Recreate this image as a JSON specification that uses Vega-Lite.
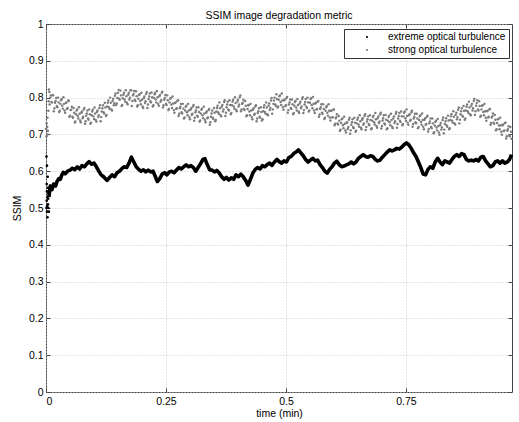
{
"$schema":"https://vega.github.io/schema/vega-lite/v6.json",
"width":466,"height":368,
"autosize":{"type":"none"},
"padding":{"left":46,"top":24,"right":7,"bottom":30},
"background":"white",
"title":{"text":"SSIM image degradation metric","fontSize":10.5,"fontWeight":"normal","font":"Liberation Sans","color":"#000","offset":-2},
"datasets":{
"strong":[
{"t":0,"v":0.715},{"t":0.001,"v":0.695},{"t":0.0015,"v":0.73},{"t":0.0025,"v":0.72},{"t":0.003,"v":0.745},{"t":0.0035,"v":0.7},{"t":0.004,"v":0.71},{"t":0.005,"v":0.764},{"t":0.0055,"v":0.79},{"t":0.006,"v":0.822},{"t":0.007,"v":0.815},{"t":0.0075,"v":0.781},{"t":0.009,"v":0.8},
{"t":0.01,"v":0.806},{"t":0.0125,"v":0.787},{"t":0.015,"v":0.806},{"t":0.0175,"v":0.771},{"t":0.02,"v":0.791},{"t":0.0225,"v":0.777},{"t":0.025,"v":0.8},{"t":0.0275,"v":0.761},{"t":0.03,"v":0.783},{"t":0.0325,"v":0.796},{"t":0.035,"v":0.77},{"t":0.0375,"v":0.783},{"t":0.04,"v":0.759},{"t":0.0425,"v":0.787},{"t":0.045,"v":0.772},{"t":0.0475,"v":0.791},{"t":0.05,"v":0.751},{"t":0.0525,"v":0.767},{"t":0.055,"v":0.748},{"t":0.0575,"v":0.772},{"t":0.06,"v":0.732},{"t":0.0625,"v":0.755},{"t":0.065,"v":0.768},{"t":0.0675,"v":0.743},{"t":0.07,"v":0.756},{"t":0.0725,"v":0.733},{"t":0.075,"v":0.762},{"t":0.0775,"v":0.748},{"t":0.08,"v":0.772},{"t":0.0825,"v":0.736},{"t":0.085,"v":0.757},{"t":0.0875,"v":0.743},{"t":0.09,"v":0.768},{"t":0.0925,"v":0.729},{"t":0.095,"v":0.752},{"t":0.0975,"v":0.767},{"t":0.1,"v":0.742},{"t":0.1025,"v":0.757},{"t":0.105,"v":0.735},{"t":0.1075,"v":0.765},{"t":0.11,"v":0.752},{"t":0.1125,"v":0.779},{"t":0.115,"v":0.747},{"t":0.1175,"v":0.771},{"t":0.12,"v":0.76},{"t":0.1225,"v":0.786},{"t":0.125,"v":0.75},{"t":0.1275,"v":0.776},{"t":0.13,"v":0.792},{"t":0.1325,"v":0.769},{"t":0.135,"v":0.786},{"t":0.1375,"v":0.765},{"t":0.14,"v":0.797},{"t":0.1425,"v":0.785},{"t":0.145,"v":0.811},{"t":0.1475,"v":0.784},{"t":0.15,"v":0.813},{"t":0.1525,"v":0.797},{"t":0.155,"v":0.819},{"t":0.1575,"v":0.777},{"t":0.16,"v":0.798},{"t":0.1625,"v":0.813},{"t":0.165,"v":0.789},{"t":0.1675,"v":0.804},{"t":0.17,"v":0.782},{"t":0.1725,"v":0.813},{"t":0.175,"v":0.8},{"t":0.1775,"v":0.82},{"t":0.18,"v":0.791},{"t":0.1825,"v":0.81},{"t":0.185,"v":0.794},{"t":0.1875,"v":0.817},{"t":0.19,"v":0.776},{"t":0.1925,"v":0.797},{"t":0.195,"v":0.809},{"t":0.1975,"v":0.782},{"t":0.2,"v":0.794},{"t":0.2025,"v":0.772},{"t":0.205,"v":0.803},{"t":0.2075,"v":0.79},{"t":0.21,"v":0.815},{"t":0.2125,"v":0.781},{"t":0.215,"v":0.803},{"t":0.2175,"v":0.79},{"t":0.22,"v":0.814},{"t":0.2225,"v":0.776},{"t":0.225,"v":0.799},{"t":0.2275,"v":0.813},{"t":0.23,"v":0.787},{"t":0.2325,"v":0.801},{"t":0.235,"v":0.778},{"t":0.2375,"v":0.807},{"t":0.24,"v":0.793},{"t":0.2425,"v":0.816},{"t":0.245,"v":0.779},{"t":0.2475,"v":0.799},{"t":0.25,"v":0.783},{"t":0.2525,"v":0.806},{"t":0.255,"v":0.766},{"t":0.2575,"v":0.787},{"t":0.26,"v":0.799},{"t":0.2625,"v":0.772},{"t":0.265,"v":0.784},{"t":0.2675,"v":0.759},{"t":0.27,"v":0.787},{"t":0.2725,"v":0.771},{"t":0.275,"v":0.793},{"t":0.2775,"v":0.756},{"t":0.28,"v":0.775},{"t":0.2825,"v":0.76},{"t":0.285,"v":0.783},{"t":0.2875,"v":0.743},{"t":0.29,"v":0.765},{"t":0.2925,"v":0.778},{"t":0.295,"v":0.752},{"t":0.2975,"v":0.765},{"t":0.3,"v":0.741},{"t":0.3025,"v":0.771},{"t":0.305,"v":0.756},{"t":0.3075,"v":0.78},{"t":0.31,"v":0.745},{"t":0.3125,"v":0.765},{"t":0.315,"v":0.751},{"t":0.3175,"v":0.774},{"t":0.32,"v":0.735},{"t":0.3225,"v":0.757},{"t":0.325,"v":0.77},{"t":0.3275,"v":0.744},{"t":0.33,"v":0.757},{"t":0.3325,"v":0.733},{"t":0.335,"v":0.762},{"t":0.3375,"v":0.746},{"t":0.34,"v":0.769},{"t":0.3425,"v":0.733},{"t":0.345,"v":0.757},{"t":0.3475,"v":0.745},{"t":0.35,"v":0.772},{"t":0.3525,"v":0.736},{"t":0.355,"v":0.762},{"t":0.3575,"v":0.778},{"t":0.36,"v":0.756},{"t":0.3625,"v":0.771},{"t":0.365,"v":0.749},{"t":0.3675,"v":0.78},{"t":0.37,"v":0.768},{"t":0.3725,"v":0.793},{"t":0.375,"v":0.759},{"t":0.3775,"v":0.781},{"t":0.38,"v":0.768},{"t":0.3825,"v":0.793},{"t":0.385,"v":0.755},{"t":0.3875,"v":0.779},{"t":0.39,"v":0.794},{"t":0.3925,"v":0.77},{"t":0.395,"v":0.785},{"t":0.3975,"v":0.763},{"t":0.4,"v":0.794},{"t":0.4025,"v":0.781},{"t":0.405,"v":0.806},{"t":0.4075,"v":0.768},{"t":0.41,"v":0.786},{"t":0.4125,"v":0.769},{"t":0.415,"v":0.791},{"t":0.4175,"v":0.749},{"t":0.42,"v":0.769},{"t":0.4225,"v":0.78},{"t":0.425,"v":0.752},{"t":0.4275,"v":0.765},{"t":0.43,"v":0.741},{"t":0.4325,"v":0.771},{"t":0.435,"v":0.756},{"t":0.4375,"v":0.779},{"t":0.44,"v":0.743},{"t":0.4425,"v":0.763},{"t":0.445,"v":0.748},{"t":0.4475,"v":0.774},{"t":0.45,"v":0.738},{"t":0.4525,"v":0.763},{"t":0.455,"v":0.779},{"t":0.4575,"v":0.756},{"t":0.46,"v":0.773},{"t":0.4625,"v":0.752},{"t":0.465,"v":0.784},{"t":0.4675,"v":0.772},{"t":0.47,"v":0.799},{"t":0.4725,"v":0.768},{"t":0.475,"v":0.792},{"t":0.4775,"v":0.781},{"t":0.48,"v":0.809},{"t":0.4825,"v":0.773},{"t":0.485,"v":0.794},{"t":0.4875,"v":0.806},{"t":0.49,"v":0.78},{"t":0.4925,"v":0.792},{"t":0.495,"v":0.767},{"t":0.4975,"v":0.795},{"t":0.5,"v":0.779},{"t":0.5025,"v":0.802},{"t":0.505,"v":0.766},{"t":0.5075,"v":0.787},{"t":0.51,"v":0.772},{"t":0.5125,"v":0.795},{"t":0.515,"v":0.755},{"t":0.5175,"v":0.778},{"t":0.52,"v":0.791},{"t":0.5225,"v":0.765},{"t":0.525,"v":0.78},{"t":0.5275,"v":0.758},{"t":0.53,"v":0.789},{"t":0.5325,"v":0.776},{"t":0.535,"v":0.801},{"t":0.5375,"v":0.766},{"t":0.54,"v":0.788},{"t":0.5425,"v":0.775},{"t":0.545,"v":0.8},{"t":0.5475,"v":0.762},{"t":0.55,"v":0.786},{"t":0.5525,"v":0.798},{"t":0.555,"v":0.771},{"t":0.5575,"v":0.783},{"t":0.56,"v":0.758},{"t":0.5625,"v":0.786},{"t":0.565,"v":0.769},{"t":0.5675,"v":0.791},{"t":0.57,"v":0.754},{"t":0.5725,"v":0.774},{"t":0.575,"v":0.759},{"t":0.5775,"v":0.782},{"t":0.58,"v":0.742},{"t":0.5825,"v":0.764},{"t":0.585,"v":0.777},{"t":0.5875,"v":0.751},{"t":0.59,"v":0.764},{"t":0.5925,"v":0.738},{"t":0.595,"v":0.764},{"t":0.5975,"v":0.747},{"t":0.6,"v":0.768},{"t":0.6025,"v":0.729},{"t":0.605,"v":0.747},{"t":0.6075,"v":0.73},{"t":0.61,"v":0.75},{"t":0.6125,"v":0.71},{"t":0.615,"v":0.731},{"t":0.6175,"v":0.743},{"t":0.62,"v":0.717},{"t":0.6225,"v":0.729},{"t":0.625,"v":0.705},{"t":0.6275,"v":0.733},{"t":0.63,"v":0.72},{"t":0.6325,"v":0.745},{"t":0.635,"v":0.711},{"t":0.6375,"v":0.733},{"t":0.64,"v":0.72},{"t":0.6425,"v":0.745},{"t":0.645,"v":0.707},{"t":0.6475,"v":0.73},{"t":0.65,"v":0.745},{"t":0.6525,"v":0.721},{"t":0.655,"v":0.736},{"t":0.6575,"v":0.714},{"t":0.66,"v":0.744},{"t":0.6625,"v":0.73},{"t":0.665,"v":0.755},{"t":0.6675,"v":0.72},{"t":0.67,"v":0.741},{"t":0.6725,"v":0.728},{"t":0.675,"v":0.752},{"t":0.6775,"v":0.714},{"t":0.68,"v":0.737},{"t":0.6825,"v":0.751},{"t":0.685,"v":0.727},{"t":0.6875,"v":0.741},{"t":0.69,"v":0.718},{"t":0.6925,"v":0.749},{"t":0.695,"v":0.735},{"t":0.6975,"v":0.759},{"t":0.7,"v":0.723},{"t":0.7025,"v":0.744},{"t":0.705,"v":0.73},{"t":0.7075,"v":0.753},{"t":0.71,"v":0.714},{"t":0.7125,"v":0.737},{"t":0.715,"v":0.751},{"t":0.7175,"v":0.725},{"t":0.72,"v":0.739},{"t":0.7225,"v":0.717},{"t":0.725,"v":0.749},{"t":0.7275,"v":0.736},{"t":0.73,"v":0.761},{"t":0.7325,"v":0.728},{"t":0.735,"v":0.75},{"t":0.7375,"v":0.737},{"t":0.74,"v":0.762},{"t":0.7425,"v":0.725},{"t":0.745,"v":0.749},{"t":0.7475,"v":0.762},{"t":0.75,"v":0.737},{"t":0.7525,"v":0.75},{"t":0.755,"v":0.726},{"t":0.7575,"v":0.755},{"t":0.76,"v":0.74},{"t":0.7625,"v":0.764},{"t":0.765,"v":0.728},{"t":0.7675,"v":0.748},{"t":0.77,"v":0.733},{"t":0.7725,"v":0.756},{"t":0.775,"v":0.717},{"t":0.7775,"v":0.739},{"t":0.78,"v":0.752},{"t":0.7825,"v":0.726},{"t":0.785,"v":0.739},{"t":0.7875,"v":0.714},{"t":0.79,"v":0.744},{"t":0.7925,"v":0.728},{"t":0.795,"v":0.751},{"t":0.7975,"v":0.715},{"t":0.8,"v":0.735},{"t":0.8025,"v":0.72},{"t":0.805,"v":0.743},{"t":0.8075,"v":0.703},{"t":0.81,"v":0.724},{"t":0.8125,"v":0.737},{"t":0.815,"v":0.711},{"t":0.8175,"v":0.723},{"t":0.82,"v":0.699},{"t":0.8225,"v":0.731},{"t":0.825,"v":0.719},{"t":0.8275,"v":0.746},{"t":0.83,"v":0.713},{"t":0.8325,"v":0.736},{"t":0.835,"v":0.724},{"t":0.8375,"v":0.751},{"t":0.84,"v":0.714},{"t":0.8425,"v":0.739},{"t":0.845,"v":0.755},{"t":0.8475,"v":0.732},{"t":0.85,"v":0.748},{"t":0.8525,"v":0.727},{"t":0.855,"v":0.759},{"t":0.8575,"v":0.747},{"t":0.86,"v":0.773},{"t":0.8625,"v":0.74},{"t":0.865,"v":0.763},{"t":0.8675,"v":0.751},{"t":0.87,"v":0.777},{"t":0.8725,"v":0.74},{"t":0.875,"v":0.765},{"t":0.8775,"v":0.781},{"t":0.88,"v":0.758},{"t":0.8825,"v":0.773},{"t":0.885,"v":0.752},{"t":0.8875,"v":0.783},{"t":0.89,"v":0.771},{"t":0.8925,"v":0.796},{"t":0.895,"v":0.763},{"t":0.8975,"v":0.785},{"t":0.9,"v":0.768},{"t":0.9025,"v":0.79},{"t":0.905,"v":0.748},{"t":0.9075,"v":0.768},{"t":0.91,"v":0.779},{"t":0.9125,"v":0.752},{"t":0.915,"v":0.763},{"t":0.9175,"v":0.737},{"t":0.92,"v":0.764},{"t":0.9225,"v":0.748},{"t":0.925,"v":0.769},{"t":0.9275,"v":0.731},{"t":0.93,"v":0.749},{"t":0.9325,"v":0.732},{"t":0.935,"v":0.753},{"t":0.9375,"v":0.711},{"t":0.94,"v":0.731},{"t":0.9425,"v":0.742},{"t":0.945,"v":0.714},{"t":0.9475,"v":0.725},{"t":0.95,"v":0.699},{"t":0.9525,"v":0.727},{"t":0.955,"v":0.711},{"t":0.9575,"v":0.732},{"t":0.96,"v":0.695},{"t":0.9625,"v":0.714},{"t":0.965,"v":0.698},{"t":0.9675,"v":0.72},{"t":0.97,"v":0.688},
{"t":0.01125,"v":0.788},{"t":0.01375,"v":0.807},{"t":0.01625,"v":0.763},{"t":0.01875,"v":0.786},{"t":0.02125,"v":0.799},{"t":0.02375,"v":0.774},{"t":0.02625,"v":0.787},{"t":0.02875,"v":0.764},{"t":0.03125,"v":0.793},{"t":0.03375,"v":0.778},{"t":0.03625,"v":0.801},{"t":0.03875,"v":0.765},{"t":0.04125,"v":0.785},{"t":0.04375,"v":0.769},{"t":0.04625,"v":0.792},{"t":0.04875,"v":0.748},{"t":0.05125,"v":0.766},{"t":0.05375,"v":0.775},{"t":0.05625,"v":0.745},{"t":0.05875,"v":0.759},{"t":0.06125,"v":0.735},{"t":0.06375,"v":0.765},{"t":0.06625,"v":0.75},{"t":0.06875,"v":0.774},{"t":0.07125,"v":0.738},{"t":0.07375,"v":0.759},{"t":0.07625,"v":0.744},{"t":0.07875,"v":0.768},{"t":0.08125,"v":0.729},{"t":0.08375,"v":0.751},{"t":0.08625,"v":0.765},{"t":0.08875,"v":0.74},{"t":0.09125,"v":0.755},{"t":0.09375,"v":0.732},{"t":0.09625,"v":0.762},{"t":0.09875,"v":0.749},{"t":0.10125,"v":0.773},{"t":0.10375,"v":0.739},{"t":0.10625,"v":0.761},{"t":0.10875,"v":0.747},{"t":0.11125,"v":0.772},{"t":0.11375,"v":0.736},{"t":0.11625,"v":0.762},{"t":0.11875,"v":0.779},{"t":0.12125,"v":0.757},{"t":0.12375,"v":0.773},{"t":0.12625,"v":0.753},{"t":0.12875,"v":0.786},{"t":0.13125,"v":0.774},{"t":0.13375,"v":0.8},{"t":0.13625,"v":0.768},{"t":0.13875,"v":0.791},{"t":0.14125,"v":0.779},{"t":0.14375,"v":0.805},{"t":0.14625,"v":0.78},{"t":0.14875,"v":0.799},{"t":0.15125,"v":0.821},{"t":0.15375,"v":0.794},{"t":0.15625,"v":0.806},{"t":0.15875,"v":0.78},{"t":0.16125,"v":0.808},{"t":0.16375,"v":0.795},{"t":0.16625,"v":0.82},{"t":0.16875,"v":0.786},{"t":0.17125,"v":0.808},{"t":0.17375,"v":0.795},{"t":0.17625,"v":0.82},{"t":0.17875,"v":0.777},{"t":0.18125,"v":0.806},{"t":0.18375,"v":0.818},{"t":0.18625,"v":0.791},{"t":0.18875,"v":0.804},{"t":0.19125,"v":0.779},{"t":0.19375,"v":0.807},{"t":0.19625,"v":0.791},{"t":0.19875,"v":0.813},{"t":0.20125,"v":0.776},{"t":0.20375,"v":0.798},{"t":0.20625,"v":0.785},{"t":0.20875,"v":0.81},{"t":0.21125,"v":0.772},{"t":0.21375,"v":0.796},{"t":0.21625,"v":0.811},{"t":0.21875,"v":0.787},{"t":0.22125,"v":0.801},{"t":0.22375,"v":0.779},{"t":0.22625,"v":0.809},{"t":0.22875,"v":0.795},{"t":0.23125,"v":0.818},{"t":0.23375,"v":0.783},{"t":0.23625,"v":0.804},{"t":0.23875,"v":0.789},{"t":0.24125,"v":0.813},{"t":0.24375,"v":0.773},{"t":0.24625,"v":0.794},{"t":0.24875,"v":0.807},{"t":0.25125,"v":0.78},{"t":0.25375,"v":0.793},{"t":0.25625,"v":0.769},{"t":0.25875,"v":0.797},{"t":0.26125,"v":0.781},{"t":0.26375,"v":0.803},{"t":0.26625,"v":0.766},{"t":0.26875,"v":0.785},{"t":0.27125,"v":0.769},{"t":0.27375,"v":0.791},{"t":0.27625,"v":0.75},{"t":0.27875,"v":0.771},{"t":0.28125,"v":0.783},{"t":0.28375,"v":0.757},{"t":0.28625,"v":0.77},{"t":0.28875,"v":0.746},{"t":0.29125,"v":0.775},{"t":0.29375,"v":0.76},{"t":0.29625,"v":0.783},{"t":0.29875,"v":0.747},{"t":0.30125,"v":0.767},{"t":0.30375,"v":0.753},{"t":0.30625,"v":0.776},{"t":0.30875,"v":0.737},{"t":0.31125,"v":0.76},{"t":0.31375,"v":0.773},{"t":0.31625,"v":0.748},{"t":0.31875,"v":0.761},{"t":0.32125,"v":0.738},{"t":0.32375,"v":0.767},{"t":0.32625,"v":0.752},{"t":0.32875,"v":0.775},{"t":0.33125,"v":0.739},{"t":0.33375,"v":0.759},{"t":0.33625,"v":0.744},{"t":0.33875,"v":0.766},{"t":0.34125,"v":0.726},{"t":0.34375,"v":0.748},{"t":0.34625,"v":0.765},{"t":0.34875,"v":0.742},{"t":0.35125,"v":0.759},{"t":0.35375,"v":0.739},{"t":0.35625,"v":0.772},{"t":0.35875,"v":0.76},{"t":0.36125,"v":0.787},{"t":0.36375,"v":0.753},{"t":0.36625,"v":0.775},{"t":0.36875,"v":0.762},{"t":0.37125,"v":0.788},{"t":0.37375,"v":0.75},{"t":0.37625,"v":0.774},{"t":0.37875,"v":0.789},{"t":0.38125,"v":0.765},{"t":0.38375,"v":0.78},{"t":0.38625,"v":0.758},{"t":0.38875,"v":0.789},{"t":0.39125,"v":0.776},{"t":0.39375,"v":0.801},{"t":0.39625,"v":0.767},{"t":0.39875,"v":0.789},{"t":0.40125,"v":0.776},{"t":0.40375,"v":0.801},{"t":0.40625,"v":0.763},{"t":0.40875,"v":0.783},{"t":0.41125,"v":0.794},{"t":0.41375,"v":0.766},{"t":0.41625,"v":0.778},{"t":0.41875,"v":0.752},{"t":0.42125,"v":0.779},{"t":0.42375,"v":0.762},{"t":0.42625,"v":0.783},{"t":0.42875,"v":0.747},{"t":0.43125,"v":0.767},{"t":0.43375,"v":0.753},{"t":0.43625,"v":0.776},{"t":0.43875,"v":0.736},{"t":0.44125,"v":0.758},{"t":0.44375,"v":0.771},{"t":0.44625,"v":0.745},{"t":0.44875,"v":0.761},{"t":0.45125,"v":0.741},{"t":0.45375,"v":0.773},{"t":0.45625,"v":0.761},{"t":0.45875,"v":0.787},{"t":0.46125,"v":0.755},{"t":0.46375,"v":0.778},{"t":0.46625,"v":0.766},{"t":0.46875,"v":0.792},{"t":0.47125,"v":0.756},{"t":0.47375,"v":0.783},{"t":0.47625,"v":0.8},{"t":0.47875,"v":0.778},{"t":0.48125,"v":0.796},{"t":0.48375,"v":0.776},{"t":0.48625,"v":0.804},{"t":0.48875,"v":0.788},{"t":0.49125,"v":0.811},{"t":0.49375,"v":0.774},{"t":0.49625,"v":0.793},{"t":0.49875,"v":0.777},{"t":0.50125,"v":0.799},{"t":0.50375,"v":0.759},{"t":0.50625,"v":0.781},{"t":0.50875,"v":0.795},{"t":0.51125,"v":0.769},{"t":0.51375,"v":0.782},{"t":0.51625,"v":0.758},{"t":0.51875,"v":0.788},{"t":0.52125,"v":0.773},{"t":0.52375,"v":0.796},{"t":0.52625,"v":0.762},{"t":0.52875,"v":0.784},{"t":0.53125,"v":0.771},{"t":0.53375,"v":0.796},{"t":0.53625,"v":0.758},{"t":0.53875,"v":0.781},{"t":0.54125,"v":0.796},{"t":0.54375,"v":0.772},{"t":0.54625,"v":0.787},{"t":0.54875,"v":0.765},{"t":0.55125,"v":0.796},{"t":0.55375,"v":0.78},{"t":0.55625,"v":0.802},{"t":0.55875,"v":0.765},{"t":0.56125,"v":0.784},{"t":0.56375,"v":0.768},{"t":0.56625,"v":0.789},{"t":0.56875,"v":0.748},{"t":0.57125,"v":0.769},{"t":0.57375,"v":0.782},{"t":0.57625,"v":0.756},{"t":0.57875,"v":0.769},{"t":0.58125,"v":0.745},{"t":0.58375,"v":0.774},{"t":0.58625,"v":0.759},{"t":0.58875,"v":0.782},{"t":0.59125,"v":0.746},{"t":0.59375,"v":0.764},{"t":0.59625,"v":0.746},{"t":0.59875,"v":0.767},{"t":0.60125,"v":0.725},{"t":0.60375,"v":0.744},{"t":0.60625,"v":0.755},{"t":0.60875,"v":0.727},{"t":0.61125,"v":0.737},{"t":0.61375,"v":0.713},{"t":0.61625,"v":0.741},{"t":0.61875,"v":0.725},{"t":0.62125,"v":0.748},{"t":0.62375,"v":0.711},{"t":0.62625,"v":0.731},{"t":0.62875,"v":0.715},{"t":0.63125,"v":0.74},{"t":0.63375,"v":0.702},{"t":0.63625,"v":0.726},{"t":0.63875,"v":0.741},{"t":0.64125,"v":0.717},{"t":0.64375,"v":0.732},{"t":0.64625,"v":0.71},{"t":0.64875,"v":0.74},{"t":0.65125,"v":0.727},{"t":0.65375,"v":0.752},{"t":0.65625,"v":0.718},{"t":0.65875,"v":0.74},{"t":0.66125,"v":0.726},{"t":0.66375,"v":0.75},{"t":0.66625,"v":0.712},{"t":0.66875,"v":0.735},{"t":0.67125,"v":0.749},{"t":0.67375,"v":0.725},{"t":0.67625,"v":0.739},{"t":0.67875,"v":0.717},{"t":0.68125,"v":0.747},{"t":0.68375,"v":0.733},{"t":0.68625,"v":0.758},{"t":0.68875,"v":0.723},{"t":0.69125,"v":0.744},{"t":0.69375,"v":0.731},{"t":0.69625,"v":0.755},{"t":0.69875,"v":0.716},{"t":0.70125,"v":0.738},{"t":0.70375,"v":0.752},{"t":0.70625,"v":0.727},{"t":0.70875,"v":0.74},{"t":0.71125,"v":0.717},{"t":0.71375,"v":0.747},{"t":0.71625,"v":0.733},{"t":0.71875,"v":0.756},{"t":0.72125,"v":0.721},{"t":0.72375,"v":0.743},{"t":0.72625,"v":0.731},{"t":0.72875,"v":0.756},{"t":0.73125,"v":0.718},{"t":0.73375,"v":0.743},{"t":0.73625,"v":0.758},{"t":0.73875,"v":0.734},{"t":0.74125,"v":0.749},{"t":0.74375,"v":0.728},{"t":0.74625,"v":0.759},{"t":0.74875,"v":0.744},{"t":0.75125,"v":0.768},{"t":0.75375,"v":0.732},{"t":0.75625,"v":0.752},{"t":0.75875,"v":0.737},{"t":0.76125,"v":0.76},{"t":0.76375,"v":0.721},{"t":0.76625,"v":0.743},{"t":0.76875,"v":0.756},{"t":0.77125,"v":0.73},{"t":0.77375,"v":0.743},{"t":0.77625,"v":0.72},{"t":0.77875,"v":0.749},{"t":0.78125,"v":0.734},{"t":0.78375,"v":0.757},{"t":0.78625,"v":0.721},{"t":0.78875,"v":0.74},{"t":0.79125,"v":0.726},{"t":0.79375,"v":0.748},{"t":0.79625,"v":0.708},{"t":0.79875,"v":0.73},{"t":0.80125,"v":0.743},{"t":0.80375,"v":0.717},{"t":0.80625,"v":0.73},{"t":0.80875,"v":0.706},{"t":0.81125,"v":0.734},{"t":0.81375,"v":0.719},{"t":0.81625,"v":0.742},{"t":0.81875,"v":0.705},{"t":0.82125,"v":0.725},{"t":0.82375,"v":0.713},{"t":0.82625,"v":0.739},{"t":0.82875,"v":0.703},{"t":0.83125,"v":0.728},{"t":0.83375,"v":0.744},{"t":0.83625,"v":0.721},{"t":0.83875,"v":0.738},{"t":0.84125,"v":0.717},{"t":0.84375,"v":0.749},{"t":0.84625,"v":0.737},{"t":0.84875,"v":0.763},{"t":0.85125,"v":0.73},{"t":0.85375,"v":0.753},{"t":0.85625,"v":0.741},{"t":0.85875,"v":0.767},{"t":0.86125,"v":0.73},{"t":0.86375,"v":0.755},{"t":0.86625,"v":0.771},{"t":0.86875,"v":0.748},{"t":0.87125,"v":0.764},{"t":0.87375,"v":0.743},{"t":0.87625,"v":0.775},{"t":0.87875,"v":0.763},{"t":0.88125,"v":0.789},{"t":0.88375,"v":0.755},{"t":0.88625,"v":0.778},{"t":0.88875,"v":0.765},{"t":0.89125,"v":0.791},{"t":0.89375,"v":0.753},{"t":0.89625,"v":0.778},{"t":0.89875,"v":0.793},{"t":0.90125,"v":0.765},{"t":0.90375,"v":0.777},{"t":0.90625,"v":0.751},{"t":0.90875,"v":0.778},{"t":0.91125,"v":0.761},{"t":0.91375,"v":0.783},{"t":0.91625,"v":0.745},{"t":0.91875,"v":0.763},{"t":0.92125,"v":0.746},{"t":0.92375,"v":0.768},{"t":0.92625,"v":0.726},{"t":0.92875,"v":0.746},{"t":0.93125,"v":0.757},{"t":0.93375,"v":0.729},{"t":0.93625,"v":0.74},{"t":0.93875,"v":0.714},{"t":0.94125,"v":0.741},{"t":0.94375,"v":0.724},{"t":0.94625,"v":0.745},{"t":0.94875,"v":0.707},{"t":0.95125,"v":0.725},{"t":0.95375,"v":0.709},{"t":0.95625,"v":0.731},{"t":0.95875,"v":0.689},{"t":0.96125,"v":0.71},{"t":0.96375,"v":0.722},{"t":0.96625,"v":0.695},{"t":0.96875,"v":0.707}
],
"extremeScatter":[
{"t":0.001,"v":0.5},{"t":0.0015,"v":0.52},{"t":0.002,"v":0.545},{"t":0.002,"v":0.49},{"t":0.003,"v":0.53},{"t":0.003,"v":0.475},{"t":0.004,"v":0.51},{"t":0.004,"v":0.555},{"t":0.005,"v":0.5},{"t":0.005,"v":0.54},{"t":0.0015,"v":0.565},{"t":0.001,"v":0.64},{"t":0.002,"v":0.615},{"t":0.006,"v":0.49},{"t":0.0035,"v":0.585},{"t":0.0045,"v":0.525},{"t":0.0025,"v":0.505}
],
"extreme":[
{"t":0.006,"v":0.53},{"t":0.009,"v":0.56},{"t":0.0125,"v":0.55},{"t":0.016,"v":0.565},{"t":0.02,"v":0.56},{"t":0.023,"v":0.572},{"t":0.027,"v":0.58},{"t":0.03,"v":0.578},{"t":0.033,"v":0.59},{"t":0.036,"v":0.597},{"t":0.04,"v":0.593},{"t":0.045,"v":0.6},{"t":0.05,"v":0.603},{"t":0.055,"v":0.608},{"t":0.06,"v":0.604},{"t":0.065,"v":0.612},{"t":0.07,"v":0.606},{"t":0.075,"v":0.615},{"t":0.08,"v":0.612},{"t":0.085,"v":0.62},{"t":0.09,"v":0.626},{"t":0.095,"v":0.619},{"t":0.1,"v":0.622},{"t":0.105,"v":0.612},{"t":0.11,"v":0.6},{"t":0.115,"v":0.59},{"t":0.12,"v":0.585},{"t":0.127,"v":0.575},{"t":0.132,"v":0.582},{"t":0.138,"v":0.59},{"t":0.143,"v":0.585},{"t":0.148,"v":0.596},{"t":0.153,"v":0.6},{"t":0.158,"v":0.607},{"t":0.163,"v":0.612},{"t":0.168,"v":0.61},{"t":0.173,"v":0.622},{"t":0.178,"v":0.638},{"t":0.183,"v":0.625},{"t":0.188,"v":0.612},{"t":0.193,"v":0.605},{"t":0.198,"v":0.6},{"t":0.203,"v":0.604},{"t":0.208,"v":0.598},{"t":0.213,"v":0.603},{"t":0.218,"v":0.598},{"t":0.223,"v":0.6},{"t":0.228,"v":0.585},{"t":0.232,"v":0.572},{"t":0.237,"v":0.58},{"t":0.242,"v":0.592},{"t":0.247,"v":0.596},{"t":0.252,"v":0.59},{"t":0.257,"v":0.598},{"t":0.262,"v":0.6},{"t":0.267,"v":0.596},{"t":0.272,"v":0.603},{"t":0.277,"v":0.61},{"t":0.282,"v":0.606},{"t":0.287,"v":0.612},{"t":0.292,"v":0.617},{"t":0.297,"v":0.612},{"t":0.302,"v":0.615},{"t":0.307,"v":0.61},{"t":0.312,"v":0.6},{"t":0.317,"v":0.61},{"t":0.322,"v":0.62},{"t":0.327,"v":0.632},{"t":0.331,"v":0.634},{"t":0.336,"v":0.618},{"t":0.341,"v":0.604},{"t":0.346,"v":0.603},{"t":0.351,"v":0.598},{"t":0.356,"v":0.602},{"t":0.361,"v":0.595},{"t":0.366,"v":0.585},{"t":0.371,"v":0.578},{"t":0.376,"v":0.583},{"t":0.381,"v":0.576},{"t":0.386,"v":0.582},{"t":0.391,"v":0.578},{"t":0.396,"v":0.59},{"t":0.401,"v":0.585},{"t":0.406,"v":0.592},{"t":0.411,"v":0.585},{"t":0.416,"v":0.575},{"t":0.421,"v":0.562},{"t":0.426,"v":0.578},{"t":0.431,"v":0.595},{"t":0.436,"v":0.605},{"t":0.441,"v":0.61},{"t":0.446,"v":0.606},{"t":0.451,"v":0.615},{"t":0.456,"v":0.612},{"t":0.461,"v":0.618},{"t":0.466,"v":0.622},{"t":0.471,"v":0.616},{"t":0.476,"v":0.625},{"t":0.481,"v":0.632},{"t":0.486,"v":0.626},{"t":0.491,"v":0.622},{"t":0.496,"v":0.628},{"t":0.501,"v":0.625},{"t":0.506,"v":0.637},{"t":0.511,"v":0.64},{"t":0.516,"v":0.648},{"t":0.521,"v":0.652},{"t":0.526,"v":0.658},{"t":0.531,"v":0.65},{"t":0.536,"v":0.642},{"t":0.541,"v":0.632},{"t":0.546,"v":0.625},{"t":0.551,"v":0.63},{"t":0.556,"v":0.635},{"t":0.561,"v":0.628},{"t":0.566,"v":0.63},{"t":0.571,"v":0.618},{"t":0.576,"v":0.61},{"t":0.581,"v":0.6},{"t":0.586,"v":0.595},{"t":0.591,"v":0.605},{"t":0.596,"v":0.612},{"t":0.601,"v":0.622},{"t":0.606,"v":0.627},{"t":0.611,"v":0.618},{"t":0.616,"v":0.612},{"t":0.621,"v":0.614},{"t":0.626,"v":0.617},{"t":0.631,"v":0.62},{"t":0.636,"v":0.625},{"t":0.641,"v":0.62},{"t":0.646,"v":0.625},{"t":0.651,"v":0.635},{"t":0.656,"v":0.64},{"t":0.661,"v":0.645},{"t":0.666,"v":0.64},{"t":0.671,"v":0.638},{"t":0.676,"v":0.642},{"t":0.681,"v":0.64},{"t":0.686,"v":0.632},{"t":0.691,"v":0.628},{"t":0.696,"v":0.63},{"t":0.701,"v":0.638},{"t":0.706,"v":0.645},{"t":0.711,"v":0.652},{"t":0.716,"v":0.658},{"t":0.721,"v":0.655},{"t":0.726,"v":0.658},{"t":0.731,"v":0.662},{"t":0.736,"v":0.66},{"t":0.741,"v":0.665},{"t":0.746,"v":0.672},{"t":0.751,"v":0.677},{"t":0.756,"v":0.672},{"t":0.761,"v":0.662},{"t":0.766,"v":0.65},{"t":0.771,"v":0.64},{"t":0.776,"v":0.625},{"t":0.781,"v":0.61},{"t":0.786,"v":0.592},{"t":0.791,"v":0.59},{"t":0.796,"v":0.605},{"t":0.801,"v":0.612},{"t":0.806,"v":0.608},{"t":0.811,"v":0.625},{"t":0.816,"v":0.635},{"t":0.821,"v":0.625},{"t":0.826,"v":0.618},{"t":0.831,"v":0.628},{"t":0.836,"v":0.625},{"t":0.841,"v":0.622},{"t":0.846,"v":0.632},{"t":0.851,"v":0.64},{"t":0.856,"v":0.645},{"t":0.861,"v":0.64},{"t":0.866,"v":0.648},{"t":0.871,"v":0.645},{"t":0.876,"v":0.632},{"t":0.881,"v":0.628},{"t":0.886,"v":0.63},{"t":0.891,"v":0.628},{"t":0.896,"v":0.632},{"t":0.901,"v":0.628},{"t":0.906,"v":0.638},{"t":0.911,"v":0.64},{"t":0.916,"v":0.628},{"t":0.921,"v":0.62},{"t":0.926,"v":0.612},{"t":0.931,"v":0.615},{"t":0.936,"v":0.625},{"t":0.941,"v":0.628},{"t":0.946,"v":0.622},{"t":0.951,"v":0.628},{"t":0.956,"v":0.622},{"t":0.961,"v":0.625},{"t":0.966,"v":0.632},{"t":0.97,"v":0.645}
]
},
"layer":[
{"data":{"name":"strong"},
 "mark":{"type":"point","filled":true,"size":6,"opacity":1,"strokeWidth":0},
 "encoding":{
  "x":{"field":"t","type":"quantitative","scale":{"domain":[0,0.971],"nice":false,"zero":false},
       "axis":{"orient":"bottom","values":[0,0.25,0.5,0.75],"format":".2~f","title":"time (min)","grid":true,"labelPadding":8,"titlePadding":2}},
  "y":{"field":"v","type":"quantitative","scale":{"domain":[0,1],"nice":false},
       "axis":{"orient":"left","values":[0,0.1,0.2,0.3,0.4,0.5,0.6,0.7,0.8,0.9,1],"format":".1~f","title":"SSIM","grid":true,"labelPadding":7,"titlePadding":6}},
  "color":{"datum":"strong optical turbulence","type":"nominal",
    "scale":{"domain":["extreme optical turbulence","strong optical turbulence"],"range":["#000000","#7c7c7c"]},
    "legend":{"orient":"none","legendX":298,"legendY":5,"title":null,"strokeColor":"#333333","fillColor":"white","padding":3,
      "symbolType":"circle","symbolSize":5,"symbolOffset":15,"labelOffset":16,"labelFontSize":10,"labelFont":"Liberation Sans","labelColor":"#000","rowPadding":3,"symbolStrokeWidth":0}}
 }},
{"data":{"name":"extremeScatter"},
 "mark":{"type":"point","filled":true,"size":7,"opacity":1,"strokeWidth":0},
 "encoding":{
  "x":{"field":"t","type":"quantitative","axis":null},
  "y":{"field":"v","type":"quantitative","axis":null},
  "color":{"datum":"extreme optical turbulence","type":"nominal"}
 }},
{"data":{"name":"extreme"},
 "mark":{"type":"line","strokeWidth":3.6,"strokeJoin":"round"},
 "encoding":{
  "x":{"field":"t","type":"quantitative","axis":{"orient":"top","values":[0,0.25,0.5,0.75],"labels":false,"title":null,"grid":false}},
  "y":{"field":"v","type":"quantitative","axis":{"orient":"right","values":[0,0.1,0.2,0.3,0.4,0.5,0.6,0.7,0.8,0.9,1],"labels":false,"title":null,"grid":false}},
  "color":{"datum":"extreme optical turbulence","type":"nominal"}
 }}
],
"config":{
 "font":"Liberation Sans",
 "view":{"stroke":"#444444","strokeWidth":1},
 "axis":{"domain":false,"tickColor":"#444444","tickSize":-4,"labelFontSize":10.5,"labelColor":"#000","labelFont":"Liberation Sans","titleFontSize":10.5,"titleFontWeight":"normal","titleColor":"#000","titleFont":"Liberation Sans","gridColor":"#c8c8c8","gridDash":[1,2],"gridWidth":1}
}
}
